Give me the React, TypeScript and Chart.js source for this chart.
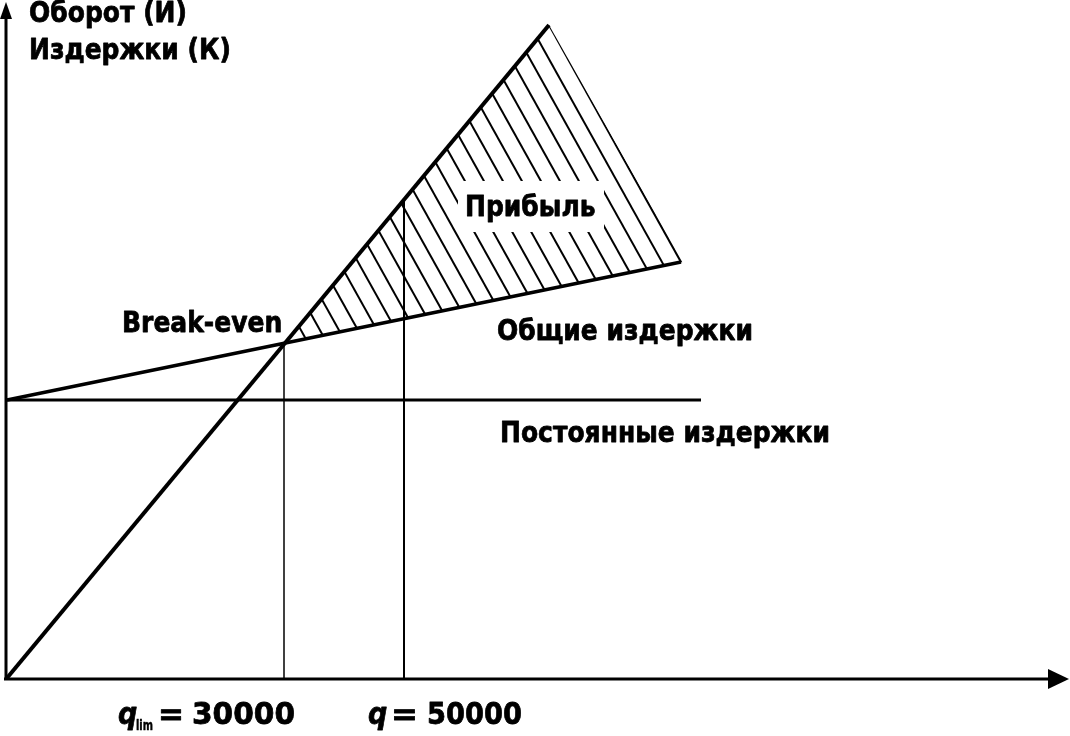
import React, { useEffect, useRef } from "react";
import { Chart, registerables } from "chart.js";

Chart.register(...registerables);

// Schematic break-even chart, values in abstract chart units
const revenueX = [0, 542];
const revenueY = [0, 653];
const totalCostX = [0, 674];
const totalCostY = [278, 416];
const fixedCostX = [0, 694];
const fixedCostY = [278, 278];
const quantityMarks = [277, 397];
const quantitySubscripts = ["lim", ""];
const quantityValues = ["30000", "50000"];

const yAxisTitle = ["Оборот (И)", "Издержки (К)"];
const profitLabel = "Прибыль";
const breakEvenLabel = "Break-even";
const totalCostLabel = "Общие издержки";
const fixedCostLabel = "Постоянные издержки";

const pts = (xs: number[], ys: number[]) => xs.map((x, i) => ({ x, y: ys[i] }));
const lineAt = (xs: number[], ys: number[], x: number) =>
  ys[0] + ((ys[1] - ys[0]) * (x - xs[0])) / (xs[1] - xs[0]);

export default function App() {
  const ref = useRef<HTMLCanvasElement | null>(null);

  useEffect(() => {
    document.body.style.margin = "0";
    const canvas = ref.current!;
    const FONT = '"DejaVu Sans", sans-serif';

    const drawText = (
      ctx: CanvasRenderingContext2D,
      text: string,
      x: number,
      y: number,
      font: string,
      sx = 1,
      sy = 1.1,
      heavy = 0.7
    ) => {
      ctx.save();
      ctx.font = font;
      ctx.textBaseline = "middle";
      ctx.textAlign = "left";
      ctx.translate(x, y);
      ctx.scale(sx, sy);
      ctx.fillStyle = "#000";
      ctx.fillText(text, 0, 0);
      if (heavy > 0) {
        ctx.lineWidth = heavy;
        ctx.strokeStyle = "#000";
        ctx.lineJoin = "round";
        ctx.strokeText(text, 0, 0);
      }
      ctx.restore();
    };

    const fitScale = (ctx: CanvasRenderingContext2D, text: string, font: string, w: number) => {
      ctx.save();
      ctx.font = font;
      const m = ctx.measureText(text).width;
      ctx.restore();
      return w / m;
    };

    const overlay = {
      id: "overlay",
      afterDatasetsDraw(chart: any) {
        const { ctx, scales } = chart;
        const xs = scales.x;
        const ys = scales.y;
        const px = (v: number) => xs.getPixelForValue(v);
        const py = (v: number) => ys.getPixelForValue(v);

        // break-even point from the two lines
        const sr = (revenueY[1] - revenueY[0]) / (revenueX[1] - revenueX[0]);
        const sc = (totalCostY[1] - totalCostY[0]) / (totalCostX[1] - totalCostX[0]);
        const bx = (totalCostY[0] - revenueY[0]) / (sr - sc);
        const by = revenueY[0] + sr * bx;
        const P1 = { x: px(bx), y: py(by) };
        const P2 = { x: px(revenueX[1]), y: py(revenueY[1]) };
        const P3 = { x: px(totalCostX[1]), y: py(totalCostY[1]) };

        // hatch
        ctx.save();
        ctx.beginPath();
        ctx.moveTo(P1.x, P1.y);
        ctx.lineTo(P2.x, P2.y);
        ctx.lineTo(P3.x + 2, P3.y);
        ctx.closePath();
        ctx.clip();
        ctx.strokeStyle = "#000";
        ctx.lineWidth = 2;
        const dx = P3.x - P2.x;
        const dy = P3.y - P2.y;
        for (let k = 0; k < 40; k++) {
          const ox = -k * 19;
          ctx.beginPath();
          ctx.moveTo(P2.x + ox - dx * 2, P2.y - dy * 2);
          ctx.lineTo(P2.x + ox + dx * 3, P2.y + dy * 3);
          ctx.stroke();
        }
        ctx.restore();

        // white gap behind profit label
        ctx.save();
        ctx.fillStyle = "#fff";
        ctx.fillRect(458, 181, 146, 51);
        ctx.restore();

        // axes with arrows
        ctx.save();
        ctx.strokeStyle = "#000";
        ctx.fillStyle = "#000";
        ctx.lineWidth = 3;
        const ox0 = px(0) - 1;
        const oy0 = py(0);
        ctx.beginPath();
        ctx.moveTo(ox0, oy0 + 2);
        ctx.lineTo(ox0, 16);
        ctx.stroke();
        ctx.beginPath();
        ctx.moveTo(ox0, 2);
        ctx.lineTo(ox0 - 6, 19);
        ctx.lineTo(ox0 + 6, 19);
        ctx.closePath();
        ctx.fill();
        ctx.beginPath();
        ctx.moveTo(ox0 - 2, oy0 + 1);
        ctx.lineTo(1050, oy0 + 1);
        ctx.stroke();
        ctx.beginPath();
        ctx.moveTo(1069, oy0 + 1);
        ctx.lineTo(1048, oy0 - 9);
        ctx.lineTo(1048, oy0 + 11);
        ctx.closePath();
        ctx.fill();
        ctx.restore();

        // texts
        const F = `bold 25px ${FONT}`;
        drawText(ctx, yAxisTitle[0], 29, 15, F);
        drawText(ctx, yAxisTitle[1], 29, 52, F);
        drawText(ctx, profitLabel, 465, 209, F);
        drawText(ctx, breakEvenLabel, 122, 325, F);
        drawText(ctx, totalCostLabel, 497, 333, F);
        drawText(ctx, fixedCostLabel, 500, 435, F);

        // quantity labels under the axis
        const qLayout = [
          { q: 118, sub: 136, subW: 17, eq: 158, eqW: 26, num: 192, numW: 103 },
          { q: 368, sub: 0, subW: 0, eq: 391, eqW: 27, num: 427, numW: 95 },
        ];
        const yq = 716;
        quantityMarks.forEach((_, i) => {
          const L = qLayout[i];
          drawText(ctx, "q", L.q, yq, `italic bold 27px ${FONT}`);
          if (quantitySubscripts[i]) {
            const FS = `bold 12px ${FONT}`;
            drawText(ctx, quantitySubscripts[i], L.sub, yq + 10, FS, fitScale(ctx, quantitySubscripts[i], FS, L.subW), 1.15, 0.4);
          }
          const FE = `bold 27px ${FONT}`;
          drawText(ctx, "=", L.eq, yq, FE, fitScale(ctx, "=", FE, L.eqW));
          const FN = `bold 27px ${FONT}`;
          drawText(ctx, quantityValues[i], L.num, yq, FN, fitScale(ctx, quantityValues[i], FN, L.numW));
        });
      },
    };

    const chart = new Chart(canvas, {
      type: "scatter",
      data: {
        datasets: [
          {
            data: pts(revenueX, revenueY),
            showLine: true,
            borderColor: "#000",
            borderWidth: 4,
            pointRadius: 0,
          },
          {
            data: pts(totalCostX, totalCostY),
            showLine: true,
            borderColor: "#000",
            borderWidth: 3.5,
            pointRadius: 0,
          },
          {
            data: pts(fixedCostX, fixedCostY),
            showLine: true,
            borderColor: "#000",
            borderWidth: 3,
            pointRadius: 0,
          },
          ...quantityMarks.map((q, i) => ({
            data: [
              { x: q, y: 0 },
              { x: q, y: lineAt(revenueX, revenueY, q) },
            ],
            showLine: true,
            borderColor: "#000",
            borderWidth: i === 0 ? 1.5 : 2,
            pointRadius: 0,
          })),
        ],
      },
      options: {
        responsive: false,
        animation: false,
        layout: { padding: 0 },
        plugins: {
          legend: { display: false },
          tooltip: { enabled: false },
        },
        scales: {
          x: { type: "linear", display: false, min: -7, max: 1063 },
          y: { type: "linear", display: false, min: -58, max: 678 },
        },
      },
      plugins: [overlay],
    } as any);

    return () => chart.destroy();
  }, []);

  return (
    <div style={{ width: 1070, height: 736, background: "#fff" }}>
      <canvas ref={ref} width={1070} height={736} style={{ display: "block" }} />
    </div>
  );
}
